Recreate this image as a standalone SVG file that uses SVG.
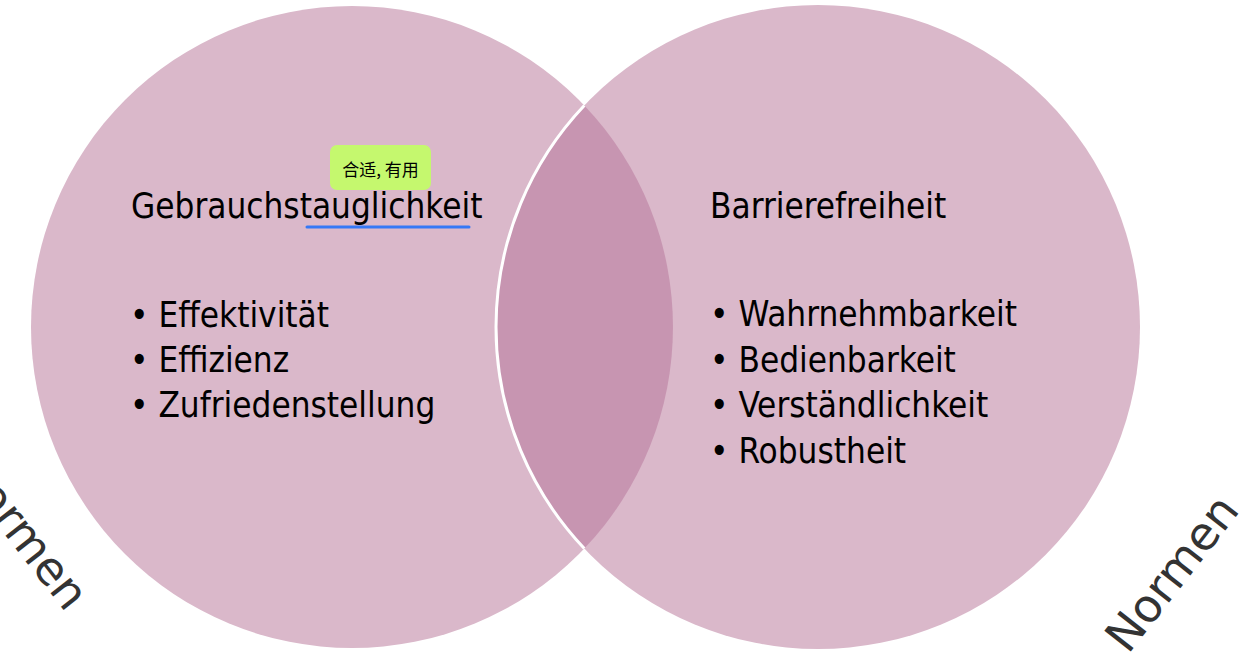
<svg xmlns="http://www.w3.org/2000/svg" width="1240" height="670" viewBox="0 0 1240 670">
<style>
.circ{fill:#DAB8CA;}
.lens{fill:#C795B1;}
.t{font-family:"DejaVu Sans Condensed","DejaVu Sans",sans-serif;font-stretch:condensed;font-size:34.8px;fill:#000;}
.norm{font-family:"DejaVu Sans",sans-serif;font-size:46px;fill:#333;}
.tag{font-family:"Noto Sans CJK SC","DejaVu Sans",sans-serif;font-size:17px;fill:#000;}
</style>
<rect width="1240" height="670" fill="#fff"/>
<g id="circle-left"><circle class="circ" cx="352" cy="327" r="321"/></g>
<g id="circle-right"><circle class="circ" cx="818" cy="327" r="322"/></g>
<g id="intersection">
<path class="lens" d="M584.3 105.5 A321 321 0 0 1 584.3 548.5 A322 322 0 0 1 584.3 105.5 Z"/>
<path d="M584.3 105.5 A322 322 0 0 0 584.3 548.5" fill="none" stroke="#fff" stroke-width="3"/>
</g>
<g id="usability">
<text class="t" x="131" y="218">Gebrauchstauglichkeit</text>
<line x1="307" y1="227" x2="469" y2="227" stroke="#3478F6" stroke-width="3" stroke-linecap="round"/>
<text class="t" x="130" y="327">• Effektivität</text>
<text class="t" x="130" y="372">• Effizienz</text>
<text class="t" x="130" y="417">• Zufriedenstellung</text>
</g>
<g id="accessibility">
<text class="t" x="710" y="218">Barrierefreiheit</text>
<text class="t" x="710" y="326">• Wahrnehmbarkeit</text>
<text class="t" x="710" y="372">• Bedienbarkeit</text>
<text class="t" x="710" y="417">• Verständlichkeit</text>
<text class="t" x="710" y="463">• Robustheit</text>
</g>
<g id="tag">
<rect x="330" y="145" width="101" height="45" rx="7" fill="#C5F86E"/>
<text class="tag" x="380.5" y="176" text-anchor="middle">合适, 有用</text>
</g>
<g id="normen-left"><text class="norm" x="66" y="613" text-anchor="end" transform="rotate(52 66 613)">Normen</text></g>
<g id="normen-right"><text class="norm" x="1128" y="655" transform="rotate(-52 1128 655)">Normen</text></g>
<g id="connectors"></g>
</svg>
